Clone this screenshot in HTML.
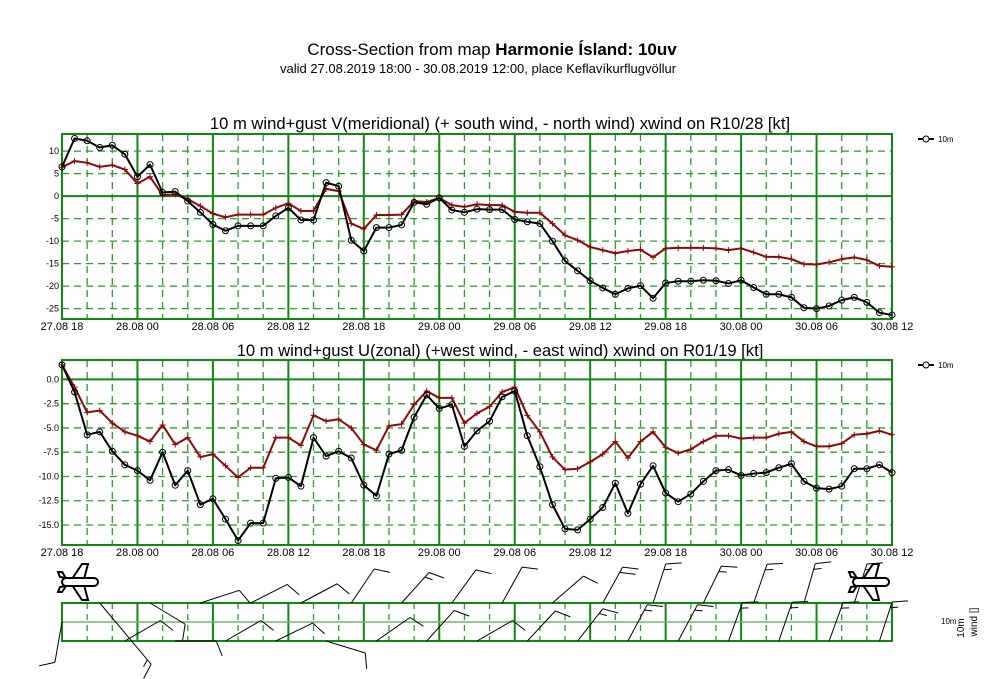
<!DOCTYPE html>
<html><head><meta charset="utf-8"><style>
html,body{margin:0;padding:0;background:#fff;}
svg{display:block;font-family:"Liberation Sans",sans-serif;}
</style></head><body>
<svg id="svg" width="1000" height="679" viewBox="0 0 1000 679" xmlns="http://www.w3.org/2000/svg">
<text x="492" y="55" text-anchor="middle" font-size="17">Cross-Section from map <tspan font-weight="bold">Harmonie Ísland: 10uv</tspan></text>
<text x="478" y="73" text-anchor="middle" font-size="13">valid 27.08.2019 18:00 - 30.08.2019 12:00, place Keflavíkurflugvöllur</text>
<text x="500" y="129" text-anchor="middle" font-size="16.6">10 m wind+gust V(meridional) (+ south wind, - north wind) xwind on R10/28 [kt]</text>
<text x="500" y="356" text-anchor="middle" font-size="16.6">10 m wind+gust U(zonal) (+west wind, - east wind) xwind on R01/19 [kt]</text>
<g id="g1"></g><g id="g2"></g><g id="g3"></g>
<text x="941" y="624" font-size="8">10m</text>
<text transform="translate(964,628) rotate(-90)" text-anchor="middle" font-size="10">10m</text>
<text transform="translate(977,622) rotate(-90)" text-anchor="middle" font-size="10">wind []</text>
</svg>
<script>
const xLabels=["27.08 18","28.08 00","28.08 06","28.08 12","28.08 18","29.08 00","29.08 06","29.08 12","29.08 18","30.08 00","30.08 06","30.08 12"];
const vMean=[6.5,12.8,12.3,10.8,11.3,9.3,4.3,7.0,0.8,1.0,-1.1,-3.6,-6.3,-7.7,-6.6,-6.6,-6.6,-4.4,-2.6,-5.3,-5.3,3.0,2.2,-9.8,-12.2,-7.0,-7.0,-6.4,-1.4,-1.8,-0.4,-3.1,-3.6,-2.9,-3.0,-3.0,-5.2,-5.7,-6.1,-10.0,-14.4,-16.6,-18.8,-20.4,-21.8,-20.5,-19.9,-22.7,-19.3,-18.9,-18.9,-18.7,-18.8,-19.4,-18.7,-20.3,-21.8,-21.8,-22.5,-24.8,-25.0,-24.4,-23.1,-22.5,-23.6,-25.9,-26.4];
const vGust=[6.4,7.8,7.4,6.5,6.9,5.9,2.8,4.3,0.2,0.4,-0.7,-2.2,-3.9,-4.7,-4.1,-4.1,-4.1,-2.6,-1.6,-3.3,-3.3,1.6,1.1,-6.1,-7.3,-4.2,-4.2,-4.1,-1.1,-1.3,-0.4,-2.0,-2.4,-1.8,-2.0,-2.0,-3.5,-3.7,-3.7,-6.1,-8.7,-9.8,-11.3,-12.0,-12.7,-12.2,-11.9,-13.6,-11.6,-11.5,-11.5,-11.5,-11.6,-12.0,-11.6,-12.5,-13.5,-13.5,-14.0,-15.1,-15.2,-14.7,-14.0,-13.6,-14.2,-15.5,-15.7];
const uMean=[1.5,-1.3,-5.7,-5.4,-7.4,-8.8,-9.4,-10.4,-7.5,-10.9,-9.4,-12.9,-12.3,-14.4,-16.6,-14.8,-14.8,-10.2,-10.1,-11.0,-6.0,-7.9,-7.4,-8.1,-10.9,-12.0,-7.7,-7.3,-3.9,-1.6,-3.0,-2.6,-6.9,-5.3,-4.3,-1.8,-1.2,-5.8,-9.0,-12.9,-15.4,-15.5,-14.4,-13.2,-10.7,-13.8,-10.8,-8.9,-11.7,-12.6,-11.8,-10.5,-9.4,-9.3,-9.9,-9.7,-9.6,-9.1,-8.7,-10.5,-11.2,-11.3,-11.0,-9.2,-9.2,-8.8,-9.6];
const uGust=[1.5,-0.8,-3.4,-3.2,-4.5,-5.4,-5.8,-6.4,-4.7,-6.7,-6.0,-8.0,-7.7,-8.9,-10.1,-9.1,-9.1,-6.0,-6.0,-6.8,-3.7,-4.3,-4.1,-5.0,-6.7,-7.3,-4.8,-4.6,-2.6,-1.2,-1.9,-1.9,-4.5,-3.5,-2.8,-1.3,-0.8,-3.7,-5.4,-8.0,-9.3,-9.2,-8.5,-7.7,-6.4,-8.1,-6.4,-5.4,-7.0,-7.6,-7.2,-6.4,-5.8,-5.8,-6.1,-6.0,-6.0,-5.6,-5.4,-6.4,-6.9,-6.9,-6.6,-5.7,-5.6,-5.3,-5.7];
const vTicks=[10,5,0,-5,-10,-15,-20,-25];
const uTicks=[0.0,-2.5,-5.0,-7.5,-10.0,-12.5,-15.0];
const barbHours=[1,3,5,7,9,11,13,15,17,19,21,23,25,27,29,31,33,35,37,39,41,43,45,47,49,51,53,55,57,59,61,63,65];
const barbAngle=[100,50,-30,31,0,-18,-30,-27,-26,-28,17,-56,-35,-48,-48,-54,-30,-61,-47,-41,-52,-61,-62,-72,-62,-64,-70,-71,-71,-74,-70,-72,-72];
const barbSpeed=[10,15,10,10,10,10,10,10,10,10,10,10,10,15,10,10,10,10,10,10,15,20,15,15,15,15,15,15,15,15,15,15,15];

const NS="http://www.w3.org/2000/svg";
const X0=62,X1=892,H=66;
const xs=h=>X0+(X1-X0)*h/H;
function mk(p,tag,at){const e=document.createElementNS(NS,tag);for(const k in at)e.setAttribute(k,at[k]);p.appendChild(e);return e;}
const GS="#118811",GD="#2f9a2f";
function grid(g,top,bot,hLines,ysFn,solidVals){
  for(let h=0;h<=H;h+=2){const solid=h%6===0;
    const l=mk(g,'line',{x1:xs(h),x2:xs(h),y1:top,y2:bot,stroke:solid?GS:GD,'stroke-width':solid?2:1.3,'stroke-dasharray':solid?'none':'7,5'});
    
    }
  hLines.forEach(v=>{const solid=solidVals.includes(v);
    const l=mk(g,'line',{x1:X0,x2:X1,y1:ysFn(v),y2:ysFn(v),stroke:solid?GS:GD,'stroke-width':solid?2:1.3,'stroke-dasharray':solid?'none':'7,5'});
    
    });
  const r=mk(g,'rect',{x:X0,y:top,width:X1-X0,height:bot-top,fill:'none',stroke:GS,'stroke-width':2});
  
  
}
function series(g,vals,ysFn,color,marker,name){
  const pts=vals.map((v,i)=>xs(i)+','+ysFn(v)).join(' ');
  const pl=mk(g,'polyline',{points:pts,fill:'none',stroke:color,'stroke-width':2,'stroke-linejoin':'round'});
  
  
  vals.forEach((v,i)=>{const x=xs(i),y=ysFn(v);let m;
    if(marker==='o'){m=mk(g,'circle',{cx:x,cy:y,r:3,fill:'none',stroke:color,'stroke-width':1});}
    else{m=mk(g,'path',{d:`M${x-3},${y}H${x+3}M${x},${y-3}V${y+3}`,stroke:color,'stroke-width':1});}
    
    });
}
function chart(g,top,bot,vmax,vmin,ticks,solid,fmt,mean,gust,labY,legY,prefix){
  const ysFn=v=>top+(vmax-v)/(vmax-vmin)*(bot-top);
  grid(g,top,bot,ticks,ysFn,solid);
  ticks.forEach(v=>{const t=mk(g,'text',{x:X0-3,y:ysFn(v)+3,'text-anchor':'end','font-size':9});t.textContent=fmt(v);
    
    });
  xLabels.forEach((s,i)=>{const t=mk(g,'text',{x:xs(i*6),y:labY,'text-anchor':'middle','font-size':11});t.textContent=s;
    
    });
  series(g,gust,ysFn,'#8b0a0a','+',prefix+'-gust');
  series(g,mean,ysFn,'#000','o',prefix+'-mean');
  const ll=mk(g,'path',{d:`M918,${legY}H934`,stroke:'#000','stroke-width':2});
  
  
  const lc=mk(g,'circle',{cx:926,cy:legY,r:3,fill:'#fff',stroke:'#000'});
  
  
  const lt=mk(g,'text',{x:938,y:legY+3,'font-size':8});lt.textContent='10m';
  
  
}
chart(document.getElementById('g1'),134,319,13.8,-27.3,vTicks,[0],v=>String(v),vMean,vGust,330,139,'v');
chart(document.getElementById('g2'),360,545,2.0,-17.06,uTicks,[0],v=>v.toFixed(1),uMean,uGust,556,365,'u');

const g3=document.getElementById('g3');
const BT=603,BB=641;
for(let h=0;h<=H;h+=2){const solid=h%6===0;
  const l=mk(g3,'line',{x1:xs(h),x2:xs(h),y1:BT,y2:BB,stroke:solid?GS:GD,'stroke-width':solid?2:1.3,'stroke-dasharray':solid?'none':'6,5'});
  
  }
const mid=mk(g3,'line',{x1:X0,x2:X1,y1:622,y2:622,stroke:'#6cb86c','stroke-width':1.5});


const br=mk(g3,'rect',{x:X0,y:BT,width:X1-X0,height:BB-BT,fill:'none',stroke:GS,'stroke-width':2});


barbHours.forEach((h,i)=>{
  let by=(i%2===1)?BT:BB;let x=xs(h);
  if(i===0){x=X0;by=622;}
  const a=barbAngle[i]*Math.PI/180;const L=(i===1)?80:41;
  const tx=x+L*Math.cos(a),ty=by+L*Math.sin(a);
  const fa=a+68*Math.PI/180;
  let d=`M${x},${by}L${tx},${ty}`;
  let s=barbSpeed[i],k=0;
  while(s>=10){const px=tx-k*6*Math.cos(a),py=ty-k*6*Math.sin(a);d+=`M${px},${py}l${16*Math.cos(fa)},${16*Math.sin(fa)}`;s-=10;k++;}
  if(s>=5){const px=tx-k*6*Math.cos(a),py=ty-k*6*Math.sin(a);d+=`M${px},${py}l${8*Math.cos(fa)},${8*Math.sin(fa)}`;}
  const p=mk(g3,'path',{d:d,stroke:'#000','stroke-width':1,fill:'none'});
  
  
});
function plane(cx,cy,name){
  const g=mk(g3,'g',{transform:`translate(${cx},${cy})`,fill:'#fff',stroke:'#000','stroke-width':2});
  
  
  mk(g,'path',{d:'M-8,-3 L2,-18 L8,-18 L4,-3 Z'});
  mk(g,'path',{d:'M-8,3 L2,18 L8,18 L4,3 Z'});
  mk(g,'path',{d:'M-20,-5 L-22,-10 L-18,-10 L-14,-4 Z'});
  mk(g,'path',{d:'M-20,5 L-22,10 L-18,10 L-14,4 Z'});
  mk(g,'rect',{x:-18,y:-4,width:36,height:8,rx:4});
}
plane(80,582,'start-airplane-icon');
plane(871,582,'end-airplane-icon');
</script>
</body></html>
